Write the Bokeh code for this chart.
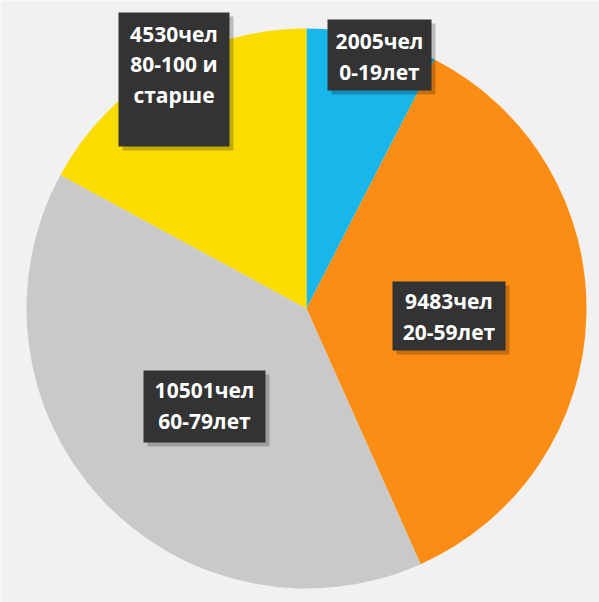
import numpy as np
from bokeh.plotting import figure
from bokeh.models import Range1d, ColumnDataSource
from bokeh.core.properties import value
from bokeh.embed import file_html
from bokeh.resources import INLINE

# data
counts = [2005, 9483, 10501, 4530]
age_groups = ["0-19лет", "20-59лет", "60-79лет", "80-100 и\nстарше"]
colors = ["#18b6ea", "#fb8d14", "#c9c9c9", "#fbdc00"]

# layout (pixel-like coordinates; y measured upward)
W, H = 599, 602
cx, cy, r = 306, 602 - 308, 280

vals = np.array(counts, dtype=float)
frac = vals / vals.sum()
cum = np.concatenate([[0], np.cumsum(frac)])
start = np.pi / 2 - cum[:-1] * 2 * np.pi
end = np.pi / 2 - cum[1:] * 2 * np.pi

p = figure(width=W, height=H, output_backend="svg", toolbar_location=None,
           x_range=Range1d(0, W), y_range=Range1d(602 - H, 602),
           min_border=0)
p.axis.visible = False
p.grid.visible = False
p.outline_line_color = None
p.background_fill_color = "#f1f1f1"
p.border_fill_color = "#f1f1f1"

src = ColumnDataSource(dict(start=start, end=end, color=colors))
p.wedge(x=cx, y=cy, radius=r, start_angle="start", end_angle="end",
        direction="clock", fill_color="color", line_color=None, source=src)

labels = [f"{c}чел\n{a}" for c, a in zip(counts, age_groups)]
# label boxes: left, right, top, bottom in image px
boxes = [(327, 431, 19, 90), (392, 505, 281, 350), (143, 265, 370, 442), (118, 229, 12, 146)]
text_cy = [56, 316, 405, 64]
bl = [b[0] for b in boxes]
br = [b[1] for b in boxes]
bt = [602 - b[2] for b in boxes]
bb = [602 - b[3] for b in boxes]
# shadow
p.quad(left=[x + 4 for x in bl], right=[x + 4 for x in br], top=[y - 4 for y in bt],
       bottom=[y - 4 for y in bb], fill_color="#000000", fill_alpha=0.22, line_color=None)
p.quad(left=bl, right=br, top=bt, bottom=bb, fill_color="#333333", line_color=None)

tx = [(a + b) / 2 for a, b in zip(bl, br)]
ty = [602 - y for y in text_cy]
p.text(x=tx, y=ty, text=labels, text_color="white", text_font=value("Open Sans"),
       text_font_style="bold", text_font_size="21px", text_align="center",
       text_baseline="middle", text_line_height=1.1)

open("out.html", "w").write(file_html(p, INLINE))
